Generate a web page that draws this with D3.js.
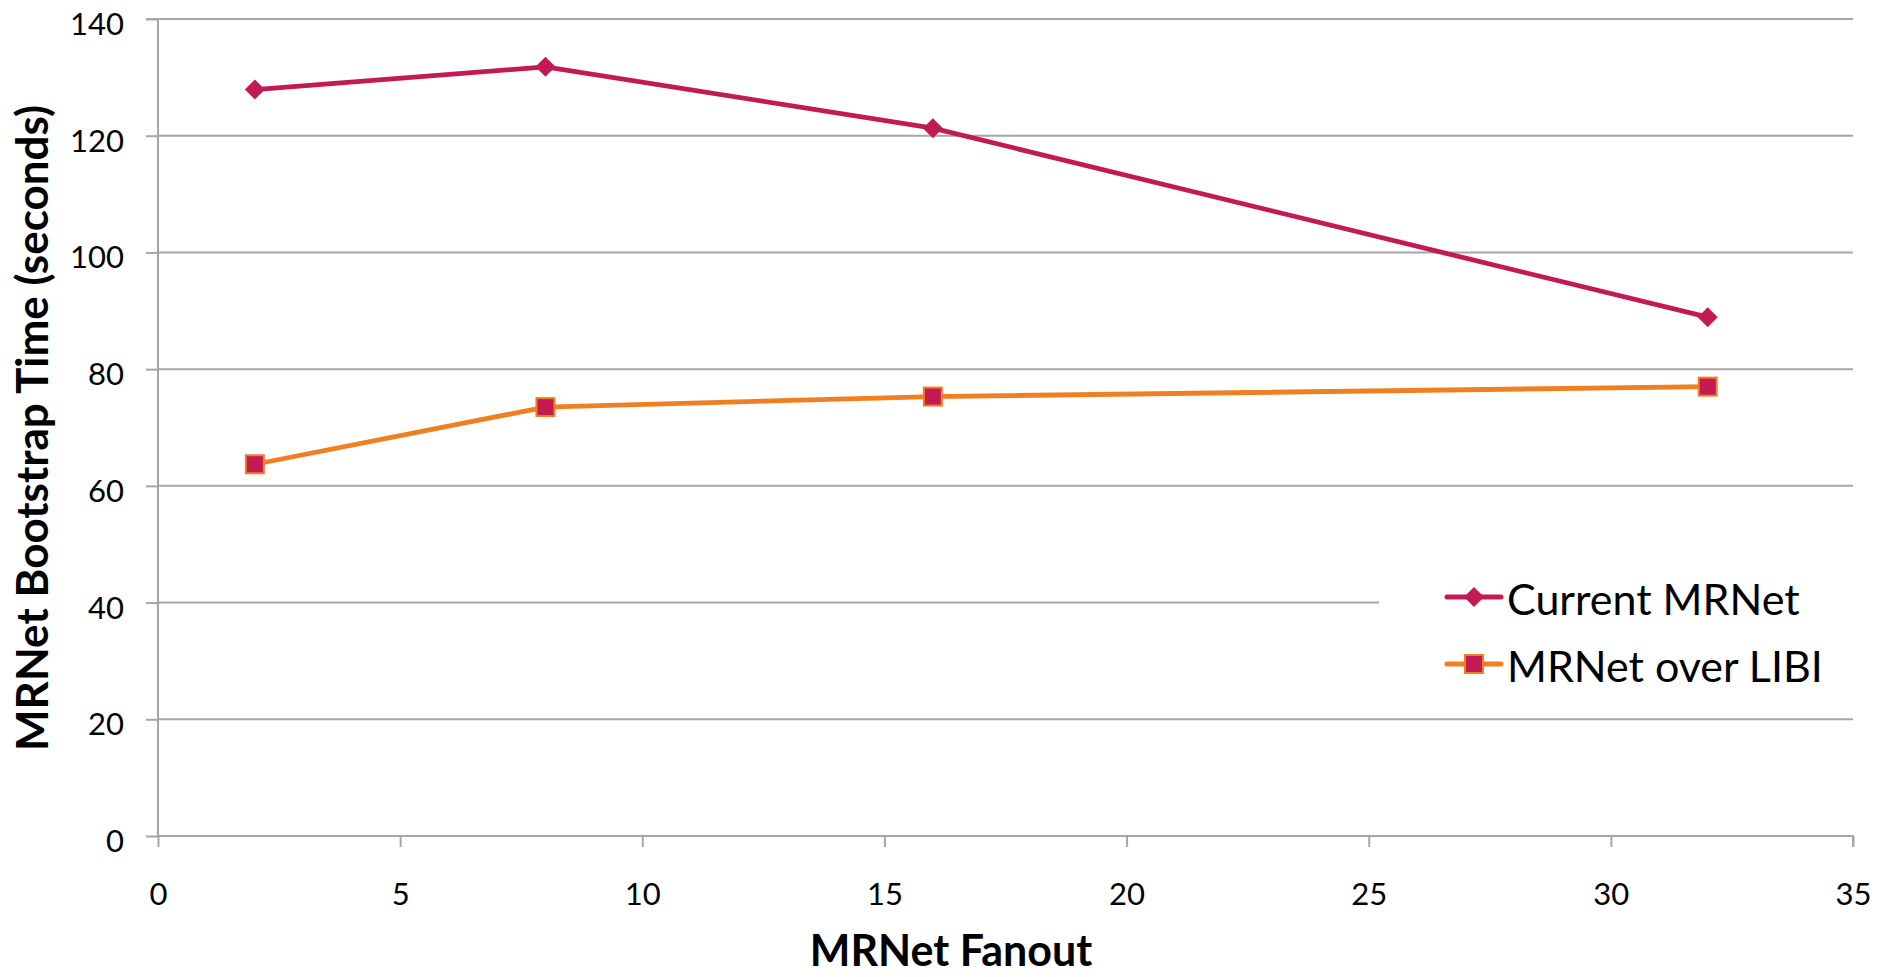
<!DOCTYPE html>
<html><head><meta charset="utf-8">
<script src="https://cdn.jsdelivr.net/npm/d3@7"></script>
<style>html,body{margin:0;padding:0;background:#fff;}svg{display:block;}</style>
</head><body>
<svg id="chart" width="1896" height="977"></svg>
<script>
const fanout = [2, 8, 16, 32];
const currentMRNet = [127.9, 131.8, 121.3, 88.9];
const mrnetOverLIBI = [63.7, 73.5, 75.3, 77.0];
const seriesNames = ["Current MRNet", "MRNet over LIBI"];
const xTicks = [0, 5, 10, 15, 20, 25, 30, 35];
const yTicks = [0, 20, 40, 60, 80, 100, 120, 140];
const xTitle = "MRNet Fanout";
const yTitle = "MRNet Bootstrap Time (seconds)";

const FONT = "Lato, 'Open Sans', sans-serif";
const crimson = "#C21A52", orange = "#F07F22", grid = "#A6A6A6";
const svg = d3.select("#chart");
const m = {l: 158, r: 1853, t: 19, b: 836};
const x = d3.scaleLinear().domain([0, 35]).range([m.l, m.r]);
const y = d3.scaleLinear().domain([0, 140]).range([m.b, m.t]);

// gridlines
svg.append("g").selectAll("line").data(yTicks.filter(d => d > 0)).join("line")
  .attr("x1", m.l).attr("x2", m.r).attr("y1", d => y(d)).attr("y2", d => y(d))
  .attr("stroke", grid).attr("stroke-width", 2);

// axes
const yAxis = svg.append("g").attr("transform", `translate(${m.l},0)`)
  .call(d3.axisLeft(y).tickValues(yTicks).tickSize(12).tickPadding(22));
const xAxis = svg.append("g").attr("transform", `translate(0,${m.b})`)
  .call(d3.axisBottom(x).tickValues(xTicks).tickSize(11).tickPadding(36));
[xAxis, yAxis].forEach(a => {
  a.selectAll("path,line").attr("stroke", grid).attr("stroke-width", 2);
  a.select(".domain").attr("d", a === xAxis ? `M${m.l},0H${m.r}V11` : `M-12,${m.t}H0V${m.b}`);
  a.selectAll("text").attr("font-family", FONT).attr("font-size", 31).attr("fill", "#000");
});
yAxis.selectAll("text").attr("dy", "0.5em");
xAxis.selectAll("text").attr("dy", "0.71em");

// legend background (covers part of 40 gridline)
svg.append("rect").attr("x", 1379).attr("y", 545).attr("width", 517).attr("height", 160).attr("fill", "#fff");

const line = d3.line().x(d => x(d[0])).y(d => y(d[1]));
const s1 = fanout.map((f, i) => [f, currentMRNet[i]]);
const s2 = fanout.map((f, i) => [f, mrnetOverLIBI[i]]);

svg.append("path").datum(s1).attr("d", line).attr("fill", "none")
  .attr("stroke", crimson).attr("stroke-width", 4.8).attr("stroke-linejoin", "round");
svg.append("path").datum(s2).attr("d", line).attr("fill", "none")
  .attr("stroke", orange).attr("stroke-width", 4.8).attr("stroke-linejoin", "round");

const diamond = (cx, cy) => `M${cx},${cy-10}L${cx+10},${cy}L${cx},${cy+10}L${cx-10},${cy}Z`;
svg.append("g").selectAll("path").data(s1).join("path")
  .attr("d", d => diamond(x(d[0]), y(d[1]))).attr("fill", crimson);
svg.append("g").selectAll("rect").data(s2).join("rect")
  .attr("x", d => x(d[0]) - 9).attr("y", d => y(d[1]) - 9).attr("width", 18).attr("height", 18)
  .attr("fill", crimson).attr("stroke", orange).attr("stroke-width", 2);

// legend
const lg = svg.append("g");
const rows = [{name: seriesNames[0], c: crimson, y: 597, mk: "d"}, {name: seriesNames[1], c: orange, y: 664, mk: "s"}];
rows.forEach(r => {
  lg.append("line").attr("x1", 1447).attr("x2", 1501).attr("y1", r.y).attr("y2", r.y)
    .attr("stroke", r.c).attr("stroke-width", 5).attr("stroke-linecap", "round");
  if (r.mk === "d") lg.append("path").attr("d", diamond(1474, r.y)).attr("fill", crimson);
  else lg.append("rect").attr("x", 1465).attr("y", r.y - 9).attr("width", 18).attr("height", 18)
    .attr("fill", crimson).attr("stroke", orange).attr("stroke-width", 2);
  lg.append("text").attr("x", 1507).attr("y", r.y + 18).text(r.name)
    .attr("font-family", FONT).attr("font-size", 43).attr("fill", "#000");
});

// titles
svg.append("text").attr("x", 951).attr("y", 966).attr("text-anchor", "middle")
  .attr("font-family", FONT).attr("font-weight", "bold").attr("font-size", 43).text(xTitle);
svg.append("text").attr("transform", "translate(48,428) rotate(-90)").attr("text-anchor", "middle")
  .attr("font-family", FONT).attr("font-weight", "bold").attr("font-size", 44).text(yTitle);
</script>
</body></html>
